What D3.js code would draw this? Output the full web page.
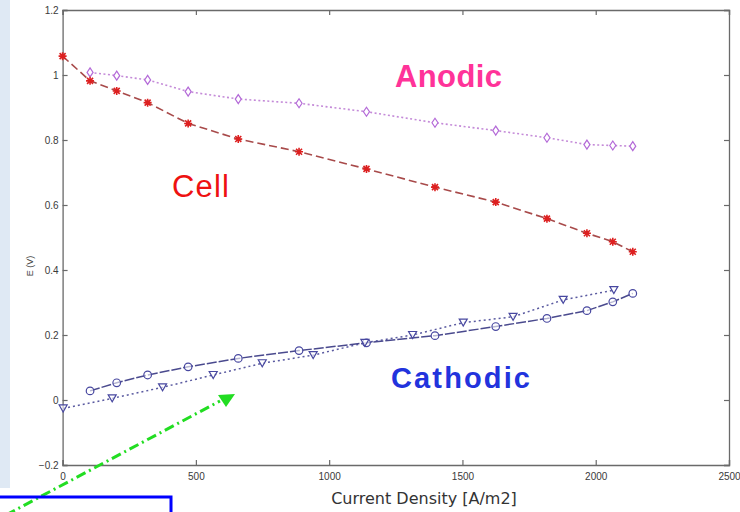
<!DOCTYPE html>
<html>
<head>
<meta charset="utf-8">
<script src="https://cdn.jsdelivr.net/npm/d3@7/dist/d3.min.js"></script>
<style>
  html, body { margin: 0; padding: 0; background: #fff; }
  svg { display: block; }
</style>
</head>
<body>
<svg id="chart" width="740" height="512"></svg>
<script>
// Polarization data: electrode potentials vs current density
const currentDensity = [103, 203, 319, 471, 659, 887, 1140, 1397, 1625, 1817, 1967, 2064, 2139];
const cellDensity = [0, 103, 203, 319, 471, 659, 887, 1140, 1397, 1625, 1817, 1967, 2064, 2139];
const cellE = [1.058, 0.982, 0.951, 0.915, 0.851, 0.803, 0.764, 0.711, 0.655, 0.609, 0.558, 0.513, 0.487, 0.456];
const anodicE = [1.008, 0.998, 0.985, 0.949, 0.926, 0.913, 0.887, 0.853, 0.829, 0.807, 0.786, 0.783, 0.781];
const cathodicE = [0.028, 0.053, 0.077, 0.102, 0.128, 0.152, 0.176, 0.198, 0.226, 0.251, 0.275, 0.302, 0.328];
const cathodicModelDensity = [2, 186, 375, 565, 749, 940, 1134, 1313, 1503, 1690, 1878, 2068];
const cathodicModelE = [-0.026, 0.005, 0.039, 0.077, 0.113, 0.138, 0.176, 0.200, 0.238, 0.256, 0.308, 0.338];
const xTicks = [0, 500, 1000, 1500, 2000, 2500];
const yTicks = [-0.2, 0, 0.2, 0.4, 0.6, 0.8, 1, 1.2];

const svg = d3.select("#chart");

// light blue slide strip on the left
svg.append("rect").attr("x", 0).attr("y", 0).attr("width", 10).attr("height", 488)
  .attr("fill", "#dfe9f4");

const x = d3.scaleLinear().domain([0, 2500]).range([62.6, 729]);
const y = d3.scaleLinear().domain([-0.2, 1.2]).range([465, 10]);

const axisColor = "#6a6a6a";
const tickFont = "'Liberation Sans', Arial, sans-serif";

// axes: ticks inward on all four sides (box style)
const gBottom = svg.append("g").attr("transform", `translate(0,${y(-0.2)})`)
  .call(d3.axisBottom(x).tickValues(xTicks).tickSize(-5).tickPadding(8).tickFormat(d3.format("d")));
const gTop = svg.append("g").attr("transform", `translate(0,${y(1.2)})`)
  .call(d3.axisTop(x).tickValues(xTicks).tickSize(-5).tickFormat(""));
const gLeft = svg.append("g").attr("transform", `translate(${x(0)},0)`)
  .call(d3.axisLeft(y).tickValues(yTicks).tickSize(-5).tickPadding(4).tickFormat(d => d3.format("")(+d.toFixed(1))));
const gRight = svg.append("g").attr("transform", `translate(${x(2500)},0)`)
  .call(d3.axisRight(y).tickValues(yTicks).tickSize(-5).tickFormat(""));

[gBottom, gTop, gLeft, gRight].forEach(g => {
  g.select(".domain").attr("stroke", axisColor).attr("stroke-width", 1.3);
  g.selectAll(".tick line").attr("stroke", axisColor).attr("stroke-width", 1.2);
  g.selectAll(".tick text").attr("fill", "#3a3a3a").style("font-family", tickFont).style("font-size", "10px");
});

// axis titles
svg.append("text").attr("x", 424).attr("y", 504).attr("text-anchor", "middle")
  .style("font-family", "'DejaVu Sans', Verdana, sans-serif").style("font-size", "16px")
  .attr("fill", "#333").text("Current Density [A/m2]");
svg.append("text").attr("transform", "translate(33,266) rotate(-90)").attr("text-anchor", "middle")
  .style("font-family", tickFont).style("font-size", "9px").attr("fill", "#444").text("E (V)");

// series
const line = d3.line().x(d => x(d[0])).y(d => y(d[1]));
const zipped = (xs, ys) => xs.map((v, i) => [v, ys[i]]);

const anodic = zipped(currentDensity, anodicE);
const cell = zipped(cellDensity, cellE);
const cathodic = zipped(currentDensity, cathodicE);
const cathodicModel = zipped(cathodicModelDensity, cathodicModelE);

svg.append("path").datum(anodic).attr("d", line).attr("fill", "none")
  .attr("stroke", "#c48ad8").attr("stroke-width", 1.6).attr("stroke-dasharray", "2,2.5");
svg.append("path").datum(cell).attr("d", line).attr("fill", "none")
  .attr("stroke", "#a84a4a").attr("stroke-width", 1.6).attr("stroke-dasharray", "8,4");
svg.append("path").datum(cathodicModel).attr("d", line).attr("fill", "none")
  .attr("stroke", "#5a5aa0").attr("stroke-width", 1.5).attr("stroke-dasharray", "2,3");
svg.append("path").datum(cathodic).attr("d", line).attr("fill", "none")
  .attr("stroke", "#4a4a8e").attr("stroke-width", 1.5).attr("stroke-dasharray", "10,2");

// markers
// anodic: thin diamonds
svg.append("g").selectAll("path").data(anodic).join("path")
  .attr("transform", d => `translate(${x(d[0])},${y(d[1])})`)
  .attr("d", "M0,-4.5L3,0L0,4.5L-3,0Z")
  .attr("fill", "#fff").attr("stroke", "#b46ad8").attr("stroke-width", 1.2);

// cell: asterisks
svg.append("g").selectAll("path").data(cell).join("path")
  .attr("transform", d => `translate(${x(d[0])},${y(d[1])})`)
  .attr("d", "M-4,0H4M0,-4V4M-3,-3L3,3M-3,3L3,-3")
  .attr("fill", "none").attr("stroke", "#dd2020").attr("stroke-width", 1.6);

// cathodic: circles
svg.append("g").selectAll("circle").data(cathodic).join("circle")
  .attr("cx", d => x(d[0])).attr("cy", d => y(d[1])).attr("r", 3.8)
  .attr("fill", "#fff").attr("fill-opacity", 0.6).attr("stroke", "#4848a0").attr("stroke-width", 1.2);

// cathodic model: downward triangles
svg.append("g").selectAll("path").data(cathodicModel).join("path")
  .attr("transform", d => `translate(${x(d[0])},${y(d[1])})`)
  .attr("d", "M-4,-3.5H4L0,3.5Z")
  .attr("fill", "#fff").attr("fill-opacity", 0.6).attr("stroke", "#4848a0").attr("stroke-width", 1.2);

// series labels
const labelFont = "'Liberation Sans', Arial, sans-serif";
svg.append("text").attr("x", 395).attr("y", 87).attr("textLength", 107)
  .style("font-family", labelFont).style("font-size", "31px").style("font-weight", "bold")
  .attr("fill", "#ff3399").text("Anodic");
svg.append("text").attr("x", 172).attr("y", 197).attr("textLength", 57)
  .style("font-family", labelFont).style("font-size", "31px")
  .attr("fill", "#ee1111").text("Cell");
svg.append("text").attr("x", 391).attr("y", 388).attr("textLength", 139)
  .style("font-family", labelFont).style("font-size", "29px").style("font-weight", "bold")
  .attr("fill", "#2233dd").text("Cathodic");

// green dash-dot pointer arrow
svg.append("line").attr("x1", 6).attr("y1", 515).attr("x2", 220).attr("y2", 401)
  .attr("stroke", "#22dd22").attr("stroke-width", 3).attr("stroke-dasharray", "10,4,2,4");
svg.append("path").attr("d", "M235,394L218,395L226,407Z").attr("fill", "#22dd22");

// blue framed box at the bottom left
svg.append("rect").attr("x", -5).attr("y", 497).attr("width", 176).attr("height", 30)
  .attr("fill", "none").attr("stroke", "#0000ff").attr("stroke-width", 3);
</script>
</body>
</html>
